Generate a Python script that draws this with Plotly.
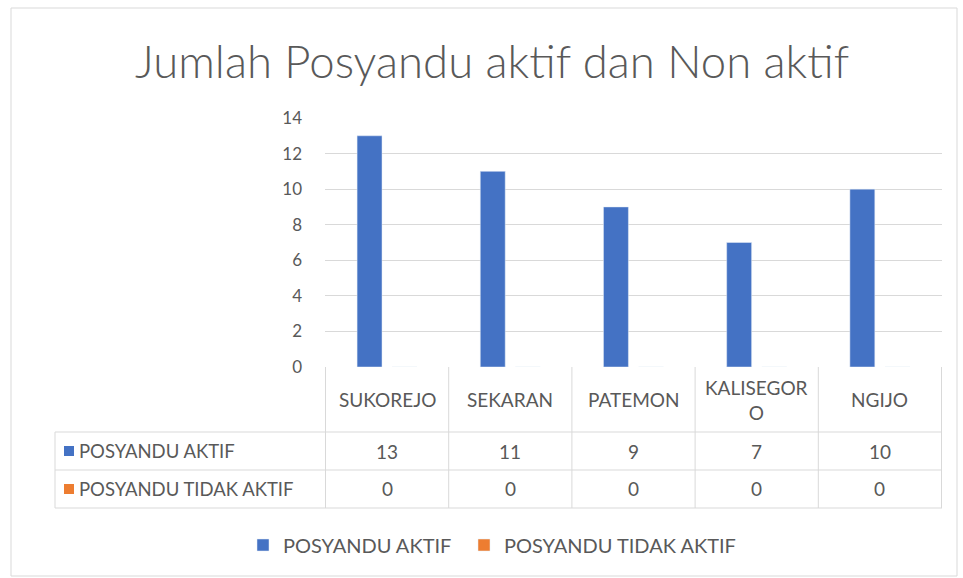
import plotly.graph_objects as go

# ---- data ----
categories = ["SUKOREJO", "SEKARAN", "PATEMON", "KALISEGORO", "NGIJO"]
category_labels = ["SUKOREJO", "SEKARAN", "PATEMON", "KALISEGOR<br>O", "NGIJO"]
aktif = [13, 11, 9, 7, 10]
tidak_aktif = [0, 0, 0, 0, 0]
series_names = ["POSYANDU AKTIF", "POSYANDU TIDAK AKTIF"]
y_ticks = [0, 2, 4, 6, 8, 10, 12, 14]
title_text = "Jumlah Posyandu aktif dan Non aktif"

# ---- layout constants (pixels) ----
W, H = 963, 578
PL, PR, PT, PB = 325, 942, 118, 367
FONT = "Lato"
GREY = "#595959"
LINE = "#d9d9d9"
BLUE = "#4472C4"
ORANGE = "#ED7D31"
TXT = 19


def px_x(X):
    return (X - PL) / (PR - PL)


def px_y(Y):
    return (PB - Y) / (PB - PT)


fig = go.Figure()
fig.add_trace(go.Bar(x=categories, y=aktif, name=series_names[0], marker_color=BLUE,
                     legend="legend"))
fig.add_trace(go.Bar(x=categories, y=tidak_aktif, name=series_names[1], marker_color=ORANGE,
                     legend="legend2"))

shapes = []
annotations = []

# outer chart border
shapes.append(dict(type="rect", xref="paper", yref="paper",
                   x0=px_x(11), x1=px_x(957), y0=px_y(576), y1=px_y(8),
                   line=dict(color="#d9d9d9", width=1), layer="below"))

# table rows (pixel y positions of horizontal lines)
row_top = PB
row_lines = [432, 470, 508]
table_left = 55
n = len(categories)

for Y in row_lines:
    shapes.append(dict(type="line", xref="paper", yref="paper",
                       x0=px_x(table_left), x1=1, y0=px_y(Y), y1=px_y(Y),
                       line=dict(color=LINE, width=1)))
# vertical lines at category boundaries
for i in range(n + 1):
    shapes.append(dict(type="line", xref="x", yref="paper",
                       x0=i - 0.5, x1=i - 0.5, y0=px_y(row_top), y1=px_y(row_lines[-1]),
                       line=dict(color=LINE, width=1)))
shapes.append(dict(type="line", xref="paper", yref="paper",
                   x0=px_x(table_left), x1=px_x(table_left),
                   y0=px_y(row_lines[0]), y1=px_y(row_lines[-1]),
                   line=dict(color=LINE, width=1)))

# header labels
for i, lab in enumerate(category_labels):
    annotations.append(dict(x=i, xref="x", y=px_y((row_top + row_lines[0]) / 2), yref="paper",
                            text=lab, showarrow=False, xanchor="center", yanchor="middle",
                            font=dict(family=FONT, size=TXT, color=GREY)))

# data rows
rows = [(series_names[0], aktif, BLUE), (series_names[1], tidak_aktif, ORANGE)]
row_bounds = [(row_lines[0], row_lines[1]), (row_lines[1], row_lines[2])]
for (name, vals, col), (y0, y1) in zip(rows, row_bounds):
    yc = (y0 + y1) / 2
    shapes.append(dict(type="rect", xref="paper", yref="paper",
                       x0=px_x(64), x1=px_x(74), y0=px_y(yc + 5), y1=px_y(yc - 5),
                       fillcolor=col, line=dict(width=0)))
    annotations.append(dict(x=px_x(77), xref="paper", y=px_y(yc), yref="paper",
                            text=name, showarrow=False, xanchor="left", yanchor="middle",
                            font=dict(family=FONT, size=18.5, color=GREY)))
    for i, v in enumerate(vals):
        annotations.append(dict(x=i, xref="x", y=px_y(yc), yref="paper",
                                text=str(v), showarrow=False, xanchor="center", yanchor="middle",
                                font=dict(family=FONT, size=TXT, color=GREY)))

annotations.append(dict(x=px_x(492), xref="paper", y=px_y(60), yref="paper",
                        text=title_text, showarrow=False, xanchor="center", yanchor="middle",
                        font=dict(family=FONT, size=45.5, color=GREY, weight=300)))

legend_common = dict(orientation="h", xanchor="left", y=px_y(545), yanchor="middle",
                     font=dict(family=FONT, size=TXT + 1, color=GREY), itemwidth=30,
                     bgcolor="rgba(0,0,0,0)")

fig.update_layout(
    width=W, height=H,
    margin=dict(l=PL, r=W - PR, t=PT, b=H - PB, pad=0),
    paper_bgcolor="white", plot_bgcolor="white",
    barmode="group", bargap=0.43, bargroupgap=0.29,
    showlegend=True,
    legend=dict(x=px_x(243), **legend_common),
    legend2=dict(x=px_x(464), **legend_common),
    shapes=shapes, annotations=annotations,
    font=dict(family=FONT, color=GREY),
)
fig.update_xaxes(showticklabels=False, showgrid=False, zeroline=False, showline=False,
                 ticks="")
fig.update_yaxes(range=[0, 14], tickvals=y_ticks, showgrid=True, gridcolor=LINE, gridwidth=1,
                 zeroline=False, showline=False, ticks="", ticklabelstandoff=22,
                 tickfont=dict(family=FONT, size=17, color=GREY))

fig.write_html("out.html", config={"displayModeBar": False},
               post_script="document.body.style.margin='0';")
